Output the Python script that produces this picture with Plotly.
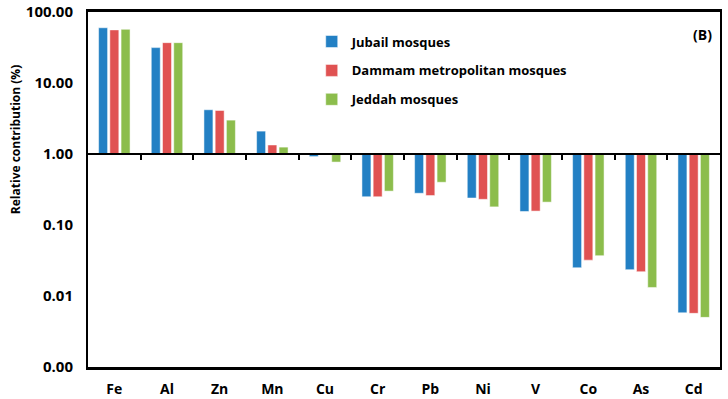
import plotly.graph_objects as go

categories = ["Fe", "Al", "Zn", "Mn", "Cu", "Cr", "Pb", "Ni", "V", "Co", "As", "Cd"]
jubail = [60, 31.5, 4.2, 2.1, 0.92, 0.25, 0.28, 0.24, 0.155, 0.025, 0.0235, 0.0058]
dammam = [56, 37, 4.1, 1.34, 1.0, 0.25, 0.26, 0.23, 0.157, 0.032, 0.022, 0.0057]
jeddah = [57, 37, 3.0, 1.25, 0.77, 0.30, 0.40, 0.18, 0.21, 0.037, 0.0132, 0.0050]
series_names = ["Jubail mosques", "Dammam metropolitan mosques", "Jeddah mosques"]
colors = ["#2380C4", "#E05252", "#8CBD4C"]
ytick_vals = [0.001, 0.01, 0.1, 1, 10, 100]
ytick_text = ["0.00", "0.01", "0.10", "1.00", "10.00", "100.00"]
baseline = 1.0

FONT = "Open Sans"

fig = go.Figure()
for name, vals, col in zip(series_names, [jubail, dammam, jeddah], colors):
    fig.add_trace(go.Bar(
        x=categories, y=[v - baseline for v in vals], base=baseline,
        name=name, marker=dict(color=col, line=dict(color="white", width=0.5)),
        legendgroup=name,
    ))

# axis line at y = 1 with ticks between categories
fig.add_trace(go.Scatter(x=[-0.5, 11.5], y=[baseline, baseline], xaxis="x2",
                         mode="lines", line=dict(color="black", width=2),
                         showlegend=False, hoverinfo="skip"))

fig.update_layout(
    width=728, height=399,
    margin=dict(l=88, r=8, t=12, b=32),
    plot_bgcolor="rgba(0,0,0,0)", paper_bgcolor="white",
    barmode="group", bargap=0.36, bargroupgap=0.2,
    font=dict(family=FONT, color="black", size=13),
    xaxis=dict(type="category", showline=True, linecolor="black", linewidth=2.5,
               mirror=True, automargin=False,
               ticks="outside", ticklen=7, tickcolor="rgba(0,0,0,0)",
               tickfont=dict(size=14, family=FONT, weight="bold"),
               range=[-0.5, 11.5]),
    xaxis2=dict(overlaying="x", anchor="free", position=0.6, range=[-0.5, 11.5],
                showline=False, showgrid=False, zeroline=False, automargin=False,
                tickvals=[i + 0.5 for i in range(len(categories) - 1)],
                ticks="outside", ticklen=5, tickwidth=2, tickcolor="black",
                showticklabels=False),
    yaxis=dict(type="log", range=[-3, 2], showline=True, linecolor="black", linewidth=2,
               mirror=True, showgrid=False, zeroline=False, automargin=False,
               ticks="outside", ticklen=10, tickcolor="rgba(0,0,0,0)",
               tickvals=ytick_vals, ticktext=ytick_text, ticklabeloverflow="allow",
               tickfont=dict(size=15, family=FONT, weight="bold")),
    legend=dict(x=0.354, y=0.959, xanchor="left", yanchor="top", bgcolor="rgba(0,0,0,0)",
                font=dict(size=13, family=FONT, weight="bold"), tracegroupgap=9,
                itemwidth=30),
    showlegend=True,
    annotations=[
        dict(text="<b>(B)</b>", x=0.99, y=0.97, xref="paper", yref="paper",
             xanchor="right", yanchor="top", showarrow=False,
             font=dict(size=14, family=FONT)),
        dict(text="<b>Relative contribution (%)</b>", x=-0.1155, y=0.639,
             xref="paper", yref="paper", xanchor="center", yanchor="middle",
             textangle=-90, showarrow=False, font=dict(size=12, family=FONT)),
    ],
)

fig.write_html("out.html", config={"displayModeBar": False},
               post_script="document.body.style.margin='0';")
